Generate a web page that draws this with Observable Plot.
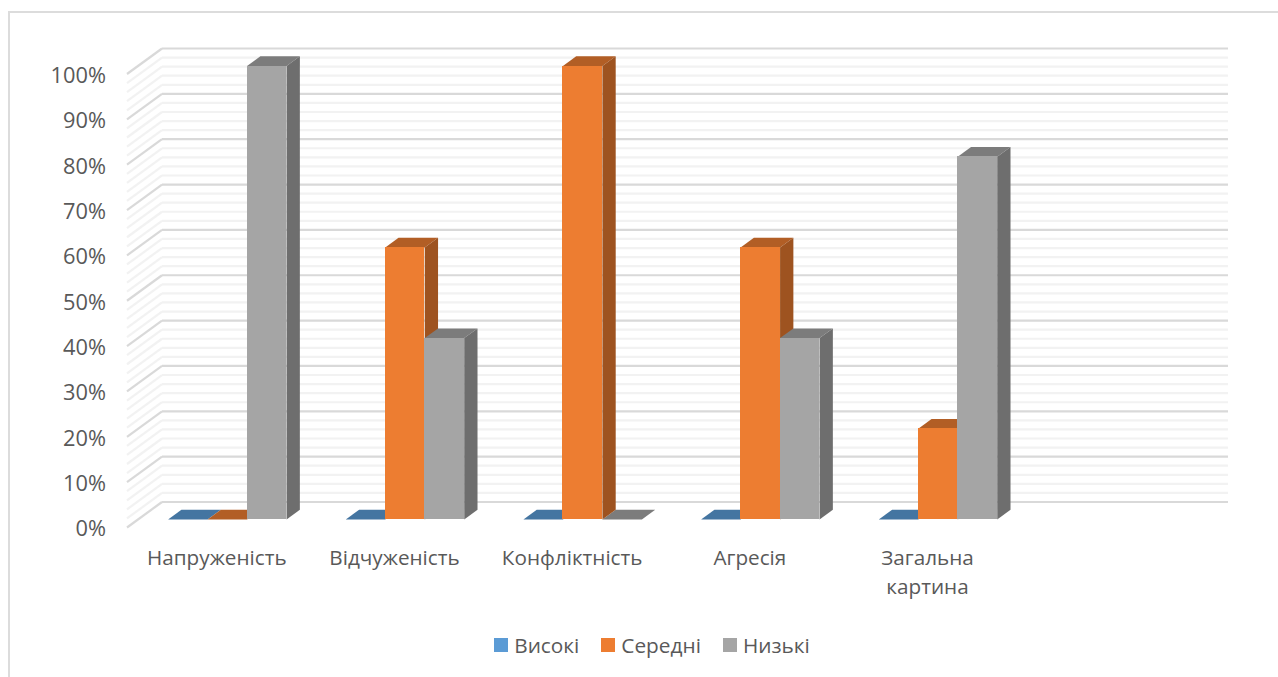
<!DOCTYPE html>
<html lang="uk">
<head>
<meta charset="utf-8">
<script src="https://cdn.jsdelivr.net/npm/d3@7"></script>
<script src="https://cdn.jsdelivr.net/npm/@observablehq/plot@0.6"></script>
<style>
  html, body { margin: 0; padding: 0; background: #fff; width: 1278px; height: 677px; overflow: hidden; }
  body { position: relative; font-family: "Open Sans", sans-serif; }
  #frame { position: absolute; left: 8px; top: 11px; width: 1300px; height: 700px; border: 2px solid #dcdcdc; box-sizing: border-box; pointer-events: none; }
  #chart svg { display: block; }
  #legend { display: flex; justify-content: center; align-items: center; height: 26px; padding-left: 26px; font-size: 20.8px; color: #595959; }
  #legend .sw { width: 14px; height: 14px; margin-right: 6px; }
  #legend .it { display: flex; align-items: center; margin-right: 22px; }
  #legend .it:last-child { margin-right: 0; }
</style>
</head>
<body>
<div id="frame"></div>
<div id="chart"></div>
<div id="legend"></div>
<script>
const categories = ["Напруженість", "Відчуженість", "Конфліктність", "Агресія", "Загальна\nкартина"];
const seriesNames = ["Високі", "Середні", "Низькі"];
const vysoki = [0, 0, 0, 0, 0];
const seredni = [0, 60, 100, 60, 20];
const nyzki = [100, 40, 0, 40, 80];
const values = [vysoki, seredni, nyzki];
const yTicks = d3.range(0, 101, 10);
const yMinor = d3.range(0, 101, 2).filter(d => d % 10 !== 0);

const frontColors = ["#5b9bd5", "#ed7d31", "#a5a5a5"];
const topColors = ["#4475a1", "#b25e25", "#7c7c7c"];
const sideColors = ["#3c6690", "#9e5320", "#6e6e6e"];

const bandPx = 177.67, pctPx = 4.535;
const wallX = 35 / bandPx, wallY = 25.5 / pctPx;      // depth of the floor
const depthX = 13.3 / bandPx, depthY = 9.7 / pctPx;   // depth of a bar
const shift = {dx: 11.5, dy: -8};                     // bars stand part way back on the floor
const barW = 2 / 9, gapW = 1 / 6;

const bars = [];
values.forEach((vals, s) => vals.forEach((v, i) => {
  const x1 = i + gapW + s * barW;
  bars.push({id: `${s}-${i}`, s, i, v, x1, x2: x1 + barW});
}));

const topFace = b => [[b.x1, b.v], [b.x2, b.v], [b.x2 + depthX, b.v + depthY], [b.x1 + depthX, b.v + depthY]]
  .map(([x, y]) => ({id: b.id, x, y}));
const sideFace = b => [[b.x2, 0], [b.x2 + depthX, depthY], [b.x2 + depthX, b.v + depthY], [b.x2, b.v]]
  .map(([x, y]) => ({id: b.id, x, y}));

const face = (list, fn, fill) => Plot.line(list.flatMap(fn), {x: "x", y: "y", z: "id", fill, stroke: "none", curve: "linear", ...shift});

const floors = seriesNames.map((_, s) => face(bars.filter(b => b.s === s && b.v === 0), topFace, topColors[s]));
const solids = seriesNames.flatMap((_, s) => {
  const list = bars.filter(b => b.s === s && b.v > 0);
  return [
    face(list, topFace, topColors[s]),
    face(list, sideFace, sideColors[s]),
    Plot.rect(list, {x1: "x1", x2: "x2", y1: 0, y2: "v", fill: frontColors[s], shapeRendering: "crispEdges", ...shift})
  ];
});

const grid = (ticks, stroke) => [
  Plot.link(ticks, {x1: 0, x2: wallX, y1: d => d, y2: d => d + wallY, stroke, strokeWidth: 2.2}),
  Plot.link(ticks, {x1: wallX, x2: 6 + wallX, y1: d => d + wallY, y2: d => d + wallY, stroke, strokeWidth: 2.2})
];

const plot = Plot.plot({
  width: 1278, height: 632,
  marginLeft: 126.5, marginRight: 85.5, marginTop: 73.5, marginBottom: 105,
  style: {background: "transparent"},
  x: {type: "linear", domain: [0, 6], axis: null},
  y: {type: "linear", domain: [0, 100], axis: null},
  marks: [
    ...grid(yMinor, "#f2f2f2"),
    ...grid(yTicks, "#d9d9d9"),
    ...floors,
    ...solids,
    Plot.axisY(yTicks, {anchor: "left", tickSize: 0, tickPadding: 21, tickFormat: d => d + "%", label: null, fontSize: 21.8, fontFamily: "Open Sans", fill: "#595959", dy: 2}),
    Plot.text(categories, {x: (d, i) => i + 0.5, y: 0, text: d => d, dx: 1, dy: 17, lineAnchor: "top", lineHeight: 1.4, fontSize: 20.7, fontFamily: "Open Sans", fill: "#595959"})
  ]
});
document.getElementById("chart").append(plot);

const legend = document.getElementById("legend");
seriesNames.forEach((name, s) => {
  const it = document.createElement("div"); it.className = "it";
  const sw = document.createElement("div"); sw.className = "sw"; sw.style.background = frontColors[s];
  const tx = document.createElement("span"); tx.textContent = name;
  it.append(sw, tx); legend.append(it);
});
</script>
</body>
</html>
